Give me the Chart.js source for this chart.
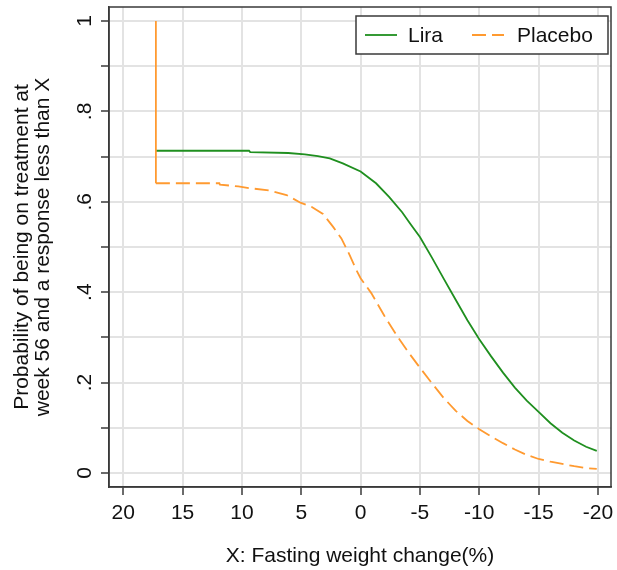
<!DOCTYPE html>
<html>
<head>
<meta charset="utf-8">
<script src="https://cdn.jsdelivr.net/npm/chart.js@4.4.0/dist/chart.umd.min.js"></script>
<style>
  html, body { margin: 0; padding: 0; background: #ffffff; }
  #wrap { width: 617px; height: 570px; }
</style>
</head>
<body>
<div id="wrap"><canvas id="c" width="617" height="570"></canvas></div>
<script>
// ---- data ----
const seriesNames = ['Lira', 'Placebo'];

const xLira = [17.25, 9.4, 9.3, 6.1, 4.7, 3.6, 2.6, 1.5, 0, -1.3, -2.4, -3.5, -4.2, -5, -6, -7, -8, -9, -10, -11, -12, -13, -14, -15, -16, -17, -18, -19, -19.9];
const yLira = [0.713, 0.713, 0.710, 0.708, 0.705, 0.701, 0.696, 0.685, 0.667, 0.641, 0.611, 0.577, 0.551, 0.522, 0.477, 0.430, 0.384, 0.338, 0.296, 0.258, 0.222, 0.189, 0.160, 0.135, 0.110, 0.089, 0.072, 0.058, 0.049];

const xPlacebo = [17.25, 17.25, 11.9, 11.85, 10.3, 9.3, 7.65, 6.24, 5.07, 4.14, 3.17, 2.33, 1.62, 0.92, 0.36, 0, -0.9, -2, -3, -4, -5, -6, -7, -8, -9, -10, -11, -12, -13, -14, -15, -16, -17, -18, -19, -19.9];
const yPlacebo = [1.0, 0.641, 0.641, 0.638, 0.634, 0.630, 0.625, 0.615, 0.598, 0.589, 0.573, 0.545, 0.519, 0.482, 0.449, 0.431, 0.398, 0.348, 0.306, 0.268, 0.233, 0.199, 0.166, 0.138, 0.115, 0.097, 0.081, 0.066, 0.052, 0.040, 0.031, 0.025, 0.020, 0.015, 0.011, 0.009];

const xTicks = [20, 15, 10, 5, 0, -5, -10, -15, -20];
const yGridTicks = [0, 0.1, 0.2, 0.3, 0.4, 0.5, 0.6, 0.7, 0.8, 0.9, 1];
const yLabelTicks = [0, 0.2, 0.4, 0.6, 0.8, 1];
const yLabelText = ['0', '.2', '.4', '.6', '.8', '1'];

const xTitle = 'X: Fasting weight change(%)';
const yTitle = ['Probability of being on treatment at', 'week 56 and a response less than X'];

// ---- styling ----
const FONT = 'Liberation Sans, Arial, Helvetica, sans-serif';
const TEXT = '#111111';
const GRID = '#e3e3e3';
const AXIS = '#3a3a3a';
const GREEN = '#1f8f1f';
const ORANGE = '#ff9a30';
const DASH = [14, 6];

const pts = (xs, ys) => xs.map((x, i) => ({ x: x, y: ys[i] }));

const framePlugin = {
  id: 'frame',
  afterDatasetsDraw(chart) {
    const { ctx, chartArea: a } = chart;
    ctx.save();
    ctx.strokeStyle = AXIS;
    ctx.lineWidth = 1.5;
    ctx.strokeRect(a.left, a.top, a.right - a.left, a.bottom - a.top);
    ctx.restore();
  }
};

const yLabelPlugin = {
  id: 'yLabels',
  afterDraw(chart) {
    const { ctx } = chart;
    const ys = chart.scales.y;
    ctx.save();
    ctx.fillStyle = TEXT;
    ctx.font = '21px ' + FONT;
    ctx.textAlign = 'center';
    ctx.textBaseline = 'middle';
    yLabelTicks.forEach((v, i) => {
      const py = ys.getPixelForValue(v);
      ctx.save();
      ctx.translate(ys.right - 24, py);
      ctx.rotate(-Math.PI / 2);
      ctx.fillText(yLabelText[i], 0, 0);
      ctx.restore();
    });
    ctx.restore();
  }
};

const legendPlugin = {
  id: 'boxLegend',
  afterDraw(chart) {
    const { ctx, chartArea: a } = chart;
    const ds = chart.data.datasets;
    const bx = a.right - 255, by = a.top + 9, bw = 252, bh = 38;
    ctx.save();
    ctx.fillStyle = '#ffffff';
    ctx.fillRect(bx, by, bw, bh);
    ctx.strokeStyle = AXIS;
    ctx.lineWidth = 1.5;
    ctx.strokeRect(bx, by, bw, bh);
    const cy = by + bh / 2;
    const items = [
      { lx: bx + 9, tx: bx + 52 },
      { lx: bx + 116, tx: bx + 161 }
    ];
    ds.forEach((d, i) => {
      const it = items[i];
      ctx.beginPath();
      ctx.strokeStyle = d.borderColor;
      ctx.lineWidth = 1.8;
      ctx.setLineDash(d.borderDash || []);
      ctx.moveTo(it.lx, cy);
      ctx.lineTo(it.lx + 32, cy);
      ctx.stroke();
      ctx.setLineDash([]);
      ctx.fillStyle = TEXT;
      ctx.font = '21px ' + FONT;
      ctx.textAlign = 'left';
      ctx.textBaseline = 'middle';
      ctx.fillText(d.label, it.tx, cy + 1);
    });
    ctx.restore();
  }
};

new Chart(document.getElementById('c'), {
  type: 'line',
  data: {
    datasets: [
      {
        label: seriesNames[0],
        data: pts(xLira, yLira),
        borderColor: GREEN,
        borderWidth: 1.8,
        pointRadius: 0,
        tension: 0,
        fill: false,
        order: 1
      },
      {
        label: seriesNames[1],
        data: pts(xPlacebo, yPlacebo),
        borderColor: ORANGE,
        borderWidth: 1.8,
        borderDash: DASH,
        pointRadius: 0,
        tension: 0,
        fill: false,
        order: 0,
        segment: {
          borderDash: ctx => (ctx.p0DataIndex === 0 ? [] : DASH)
        }
      }
    ]
  },
  options: {
    responsive: false,
    animation: false,
    layout: { padding: { left: 0, right: 6, top: 7, bottom: 0 } },
    plugins: {
      legend: { display: false },
      tooltip: { enabled: false }
    },
    scales: {
      x: {
        type: 'linear',
        reverse: true,
        min: -21.1,
        max: 21.2,
        afterBuildTicks: s => { s.ticks = xTicks.map(v => ({ value: v })); },
        afterFit: s => { s.height = 83; s.paddingLeft = 0; s.paddingRight = 0; },
        ticks: {
          font: { family: FONT, size: 21 },
          color: TEXT,
          padding: 6,
          maxRotation: 0,
          autoSkip: false,
          callback: v => String(v)
        },
        grid: {
          color: GRID,
          lineWidth: 2,
          tickColor: AXIS,
          tickWidth: 1.5,
          tickLength: 8
        },
        border: { color: AXIS, width: 1.5 },
        title: {
          display: true,
          text: xTitle,
          color: TEXT,
          font: { family: FONT, size: 21 },
          padding: { top: 0, bottom: 1 }
        }
      },
      y: {
        type: 'linear',
        min: -0.031,
        max: 1.031,
        afterBuildTicks: s => { s.ticks = yGridTicks.map(v => ({ value: v })); },
        afterFit: s => { s.width = 109; s.paddingTop = 0; s.paddingBottom = 0; },
        ticks: { display: false },
        grid: {
          color: GRID,
          lineWidth: 2,
          tickColor: AXIS,
          tickWidth: 1.5,
          tickLength: 8
        },
        border: { color: AXIS, width: 1.5 },
        title: {
          display: true,
          text: yTitle,
          color: TEXT,
          font: { family: FONT, size: 21, lineHeight: 1.0 },
          padding: { top: 12, bottom: 0 }
        }
      }
    }
  },
  plugins: [framePlugin, yLabelPlugin, legendPlugin]
});
</script>
</body>
</html>
